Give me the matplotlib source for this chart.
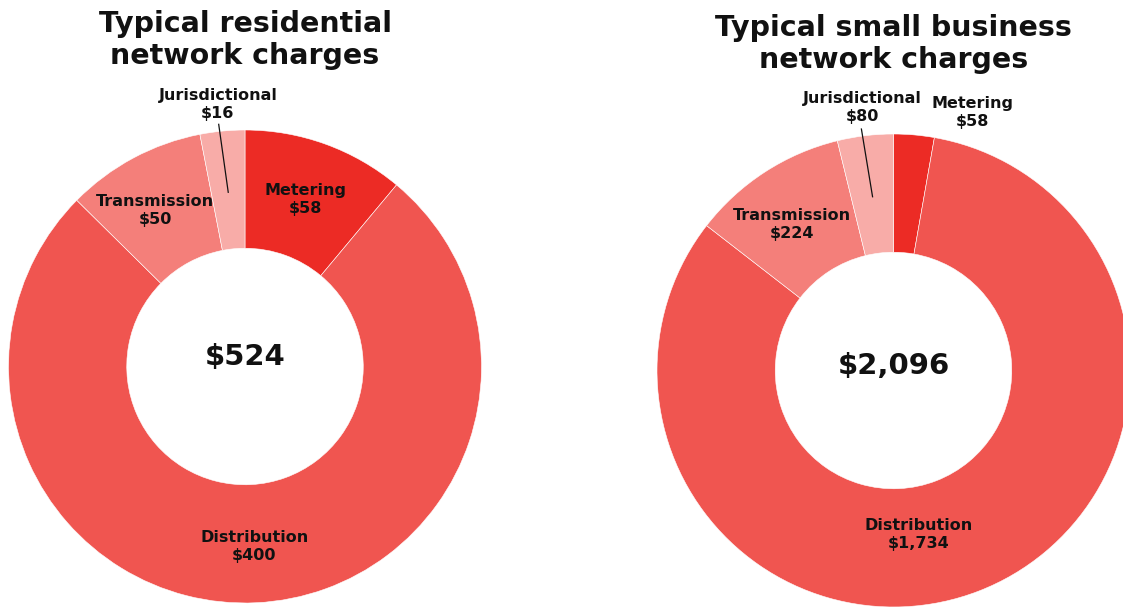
import numpy as np
import matplotlib
matplotlib.use("Agg")
import matplotlib.pyplot as plt

# ---- data ----
categories = ["Metering", "Distribution", "Transmission", "Jurisdictional"]
residential_values = [58, 400, 50, 16]
business_values = [58, 1734, 224, 80]
residential_total = "$524"
business_total = "$2,096"
titles = ["Typical residential\nnetwork charges", "Typical small business\nnetwork charges"]

colors = ["#EC2B25", "#F05550", "#F47F7A", "#F8ACA8"]

W, H = 1123, 608
fig = plt.figure(figsize=(W / 100, H / 100), dpi=100)
fig.patch.set_facecolor("white")

# layout: donut centre (px), radius (px); label placement (radius factor, angle offset deg, leader line)
layouts = [
    dict(cx=245, cy=366.5, R=236.5,
         lab=[(0.75, 0.0, False), (0.76, 0.2, False), (0.76, 1.9, False), (1.115, 0.4, True)],
         title_y=40, total_dy=0.04),
    dict(cx=893.5, cy=370.5, R=236.5,
         lab=[(1.14, -12.0, False), (0.70, -12.3, False), (0.75, 1.8, False), (1.118, -0.1, True)],
         title_y=44, total_dy=0.02),
]


def fmt(v):
    return "${:,}".format(v)


for values, total, title, lay in zip([residential_values, business_values],
                                     [residential_total, business_total],
                                     titles, layouts):
    cx, cy, R = lay["cx"], lay["cy"], lay["R"]
    ax = fig.add_axes([(cx - R) / W, (H - cy - R) / H, 2 * R / W, 2 * R / H])
    wedges, _ = ax.pie(values, colors=colors, startangle=90, counterclock=False,
                       radius=1.0, wedgeprops=dict(width=0.5, edgecolor="white",
                                                   linewidth=0.4))
    ax.set_xlim(-1, 1)
    ax.set_ylim(-1, 1)
    ax.set_aspect("equal")
    ax.axis("off")

    for w, cat, v, (rf, dth, leader) in zip(wedges, categories, values, lay["lab"]):
        mid = np.deg2rad((w.theta1 + w.theta2) / 2.0 + dth)
        ax.text(rf * np.cos(mid), rf * np.sin(mid), f"{cat}\n{fmt(v)}",
                ha="center", va="center", fontsize=11.5, fontweight="bold",
                linespacing=1.25, color="#111111", clip_on=False)
        if leader:
            m0 = np.deg2rad((w.theta1 + w.theta2) / 2.0)
            ax.plot([0.74 * np.cos(m0), 1.03 * np.cos(m0 + np.deg2rad(0.7))],
                    [0.74 * np.sin(m0), 1.03 * np.sin(m0 + np.deg2rad(0.7))],
                    color="#111111", lw=0.9, clip_on=False)

    ax.text(0, lay["total_dy"], total, ha="center", va="center", fontsize=21,
            fontweight="bold", color="#111111")

    fig.text(cx / W, 1 - lay["title_y"] / H, title, ha="center", va="center",
             fontsize=20.5, fontweight="bold", linespacing=1.2, color="#111111")

fig.savefig("out.png", dpi=100, facecolor="white")
